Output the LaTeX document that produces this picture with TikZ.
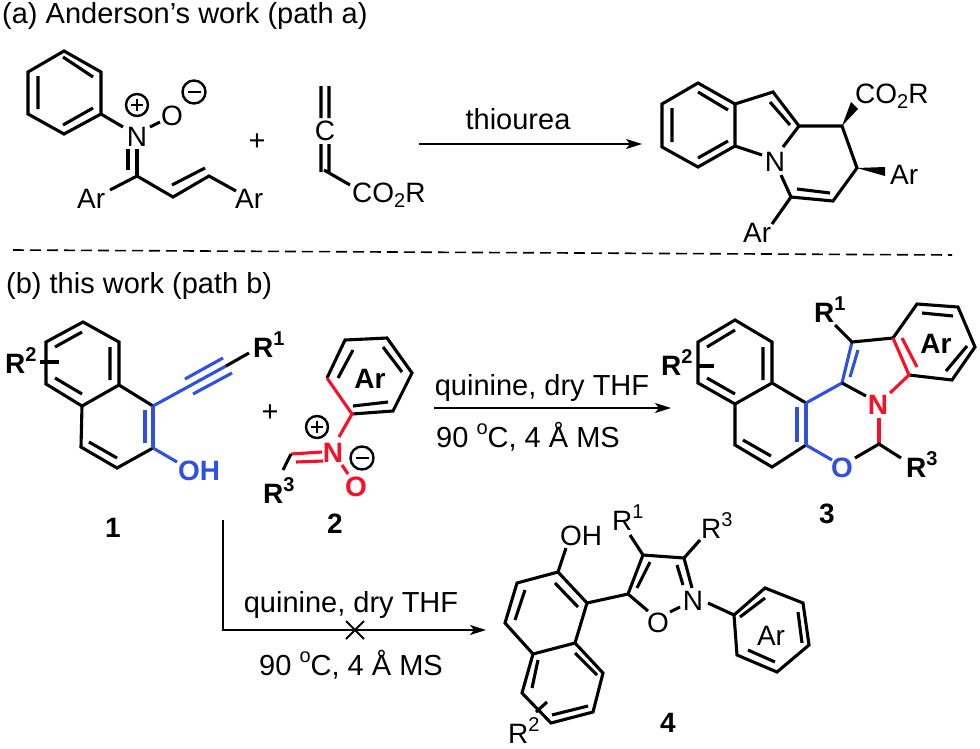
\documentclass[tikz,border=0pt]{standalone}
\usepackage{fontspec}
\setmainfont{Liberation Sans}
\usetikzlibrary{arrows.meta}
\definecolor{cb}{HTML}{2F50E0}
\definecolor{cr}{HTML}{FA0F28}
\newcommand{\sps}[1]{\raisebox{.42em}{\fontsize{20}{20}\selectfont #1}}
\newcommand{\sbs}[1]{\raisebox{-.2em}{\fontsize{20}{20}\selectfont #1}}
\tikzset{
  bond/.style={line width=3.1pt,line join=miter,draw=black},
  bl/.style={bond,draw=cb},
  rd/.style={bond,draw=cr},
  atom/.style={font=\fontsize{28}{28}\selectfont,inner sep=0pt,anchor=base},
  atomw/.style={atom,anchor=base west},
  batom/.style={atom,font=\fontsize{28}{28}\selectfont\bfseries},
  batomw/.style={batom,anchor=base west},
  lbl/.style={inner sep=0pt,anchor=base,font=\fontsize{29}{29}\selectfont},
  title/.style={inner sep=0pt,anchor=base west,font=\fontsize{29}{29}\selectfont},
  rxn/.style={line width=1.8pt,-{Stealth[length=16pt,width=10pt,inset=4pt]}},
  chargep/.pic={\draw[line width=2.4pt] (0,0) circle (11);\draw[line width=2.4pt] (-6,0)--(6,0) (0,-6)--(0,6);},
  chargem/.pic={\draw[line width=2.4pt] (0,0) circle (11.5);\draw[line width=2.4pt] (-6.5,0)--(6.5,0);},
}
\begin{document}
\begin{tikzpicture}[x=1pt,y=-1pt]
\useasboundingbox (0,0) rectangle (980,748);
\fill[white] (0,0) rectangle (980,748);
% titles
\node[title] (ta) at (2,23) {(a) Anderson's work (path a)};
\node[title] (tb) at (6,293) {(b) this work (path b)};
\coordinate (da) at (13,250); \coordinate (db) at (952,255);
\draw[line width=1.6pt,dash pattern=on 11pt off 6pt] (da)--(db);
% --- nitrone (a)
\draw[bond] (64,51)--(101,72)--(101,114)--(64,134)--(28,114)--(28,72)--cycle;
\draw[bond] (38,76)--(38,109) (63,57)--(93,77) (63,125)--(93,108);
\draw[bond] (101,114)--(123,127) (150,127)--(160,122);
\draw[bond] (128,149)--(128,170) (137,149)--(137,176);
\draw[bond] (110,190)--(137,176)--(173,197)--(209,176)--(236,191) (172,185)--(205,168);
\node[atom] (n1) at (137,146) {N};
\node[atom] (o1) at (172,125) {O};
\pic at (137,105) {chargep};
\pic at (194,92) {chargem};
\node[atomw] (ar1) at (77,208) {Ar};
\node[atomw] (ar2) at (235,208) {Ar};
\node[lbl] (pl1) at (257,150) {+};
% allene
\draw[bond] (321,86)--(321,118) (329,86)--(329,118) (321,144)--(321,172) (329,144)--(329,172) (324,170)--(350,185);
\node[atom] (c1) at (325,140) {C};
\node[atomw] (co1) at (352,202) {CO\sbs{2}R};
% arrow a
\coordinate (a1s) at (419,144); \coordinate (a1e) at (642,144);
\draw[rxn] (a1s)--(a1e);
\node[lbl] (th) at (518,129) {thiourea};
% --- product a
\draw[bond] (698,83)--(735,104)--(735,146)--(698,167)--(662,147)--(662,104)--cycle;
\draw[bond] (672,108)--(672,142) (698,92)--(728,110) (698,158)--(728,141);
\draw[bond] (735,104)--(773,92)--(799,126)--(842,126)--(857,168)--(833,201)--(791,197)--(781,175);
\draw[bond] (770,102)--(790,125) (797,189)--(830,193);
\draw[bond] (735,146)--(762,155) (799,126)--(783,147) (791,197)--(772,224);
\fill (842,126)--(851,102)--(858,109)--cycle;
\fill (857,168)--(885,167)--(885,176)--cycle;
\node[atom] (n2) at (775,171) {N};
\node[atomw] (co2) at (855,103) {CO\sbs{2}R};
\node[atomw] (ar3) at (890,184) {Ar};
\node[atomw] (ar4) at (743,242) {Ar};
% --- compound 1
\draw[bond] (119,385)--(119,342)--(83,322)--(46,342)--(46,384)--(82,406)--(119,385)--(153,406);
\draw[bond] (55,347)--(82,332) (110,347)--(110,380) (55,378)--(82,394);
\draw[bond] (82,406)--(81,447)--(117,468)--(153,448);
\draw[bond] (89,442)--(117,458);
\draw[bl] (153,406)--(153,448) (145,410)--(145,443);
\draw[bl] (153,406)--(226,366) (185,379)--(223,358) (193,394)--(232,373);
\draw[bond] (226,366)--(249,353);
\draw[bl] (153,448)--(177,462);
\draw[bond] (40,362)--(59,362);
\node[batomw,text=cb] (oh1) at (178,480) {OH};
\node[batomw] (r21) at (5,373) {R\sps{2}};
\node[batomw] (r11) at (253,357) {R\sps{1}};
\node[lbl] (pl2) at (270,421) {+};
\node[batom] (l1) at (113,537) {1};
% --- compound 2
\draw[bond] (327,378)--(345,340)--(387,338)--(412,373)--(393,411)--(352,414);
\draw[bond] (338,378)--(353,350) (383,347)--(402,372) (353,406)--(388,402);
\draw[rd] (327,378)--(352,414)--(339,437);
\draw[rd] (291,454)--(322,452) (296,462)--(323,461) (342,465)--(348,474);
\draw[bond] (283,470)--(291,454);
\node[batom,text=cr] (n3) at (333,462) {N};
\node[batom,text=cr] (o3) at (356,496) {O};
\node[batom] (ar5) at (370,388) {Ar};
\pic at (317,427) {chargep};
\pic at (362,458) {chargem};
\node[batomw] (r31) at (263,503) {R\sps{3}};
\node[batom] (l2) at (335,533) {2};
% arrow b top
\coordinate (a2s) at (434,408); \coordinate (a2e) at (671,408);
\draw[rxn] (a2s)--(a2e);
\node[lbl] (q1) at (542,395) {quinine, dry THF};
\node[lbl] (t1) at (528,447) {90 \sps{o}C, 4 Å MS};
% arrow b bottom
\coordinate (a3s) at (223,520); \coordinate (a3c) at (223,630); \coordinate (a3e) at (486,630);
\draw[rxn] (a3s)--(a3c)--(a3e);
\coordinate (xc) at (355,630);
\draw[line width=1.8pt] ([shift={(-9,-9)}]xc)--([shift={(9,9)}]xc) ([shift={(-9,9)}]xc)--([shift={(9,-9)}]xc);
\node[lbl] (q2) at (351,612) {quinine, dry THF};
\node[lbl] (t2) at (351,675) {90 \sps{o}C, 4 Å MS};
% --- compound 3
\draw[bond] (772,383)--(772,342)--(735,320)--(698,342)--(698,383)--(735,404)--(772,383)--(806,403);
\draw[bond] (707,347)--(735,330) (763,347)--(763,380) (707,378)--(735,394);
\draw[bond] (735,404)--(735,445)--(772,467)--(806,445);
\draw[bond] (743,440)--(771,456);
\draw[bl] (806,403)--(806,445) (797,407)--(797,442);
\draw[bl] (806,403)--(842,383)--(852,342) (850,377)--(858,350);
\draw[bl] (806,445)--(832,460);
\draw[bond] (842,383)--(866,396);
\draw[bond] (835,325)--(852,342)--(893,338);
\draw[bond] (893,338)--(917,304)--(958,307)--(975,347)--(952,380)--(909,375);
\draw[bond] (922,313)--(953,316) (946,371)--(967,346);
\draw[rd] (893,338)--(909,375)--(890,393) (902,338)--(917,367);
\draw[rd] (879,418)--(879,444);
\draw[bond] (855,458)--(879,444)--(901,458);
\draw[bond] (697,366)--(714,366);
\node[batom,text=cr] (n4) at (878,414) {N};
\node[batom,text=cb] (o4) at (842,477) {O};
\node[batom] (ar6) at (936,353) {Ar};
\node[batomw] (r22) at (661,375) {R\sps{2}};
\node[batomw] (r12) at (814,322) {R\sps{1}};
\node[batomw] (r32) at (906,477) {R\sps{3}};
\node[batom] (l3) at (827,523) {3};
% --- compound 4
\draw[bond] (566,548)--(558,572)--(587,603)--(575,643)--(533,654)--(505,623)--(517,583)--(558,572);
\draw[bond] (555,583)--(578,607) (515,620)--(525,590);
\draw[bond] (575,643)--(603,673)--(593,712)--(551,723)--(522,693)--(533,654);
\draw[bond] (575,653)--(597,675) (552,715)--(588,706) (532,688)--(538,660);
\draw[bond] (536,712)--(547,702);
\draw[bond] (587,603)--(628,594)--(643,555)--(684,558)--(692,588);
\draw[bond] (637,588)--(650,562) (677,565)--(683,585);
\draw[bond] (628,594)--(648,611) (670,612)--(680,607);
\draw[bond] (630,535)--(643,555) (684,558)--(700,540);
\draw[bond] (708,603)--(734,615)--(765,588)--(803,603)--(809,645)--(777,672)--(737,655)--(734,615);
\draw[bond] (740,617)--(765,598) (798,612)--(802,643) (748,650)--(775,662);
\node[atomw] (oh4) at (560,545) {OH};
\node[atom] (n5) at (693,610) {N};
\node[atom] (o5) at (658,632) {O};
\node[atom] (ar7) at (771,645) {Ar};
\node[atomw] (r13) at (612,530) {R\sps{1}};
\node[atomw] (r33) at (701,538) {R\sps{3}};
\node[atomw] (r23) at (508,743) {R\sps{2}};
\node[batom] (l4) at (668,732) {4};
\end{tikzpicture}
\end{document}
